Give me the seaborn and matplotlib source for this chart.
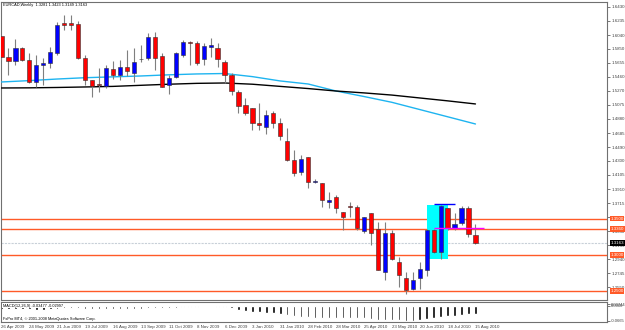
import matplotlib
matplotlib.use("Agg")
import matplotlib.pyplot as plt
from matplotlib.patches import Rectangle
import seaborn as sns
import numpy as np

# weekly EURCAD candles, 26 Apr 2009 .. 15 Aug 2010
opens = [1.6027, 1.5737, 1.5681, 1.5861, 1.5695, 1.5391, 1.5626, 1.5654, 1.5792, 1.6207,
         1.6200, 1.6193, 1.5723, 1.5419, 1.5363, 1.5336, 1.5571, 1.5488, 1.5598, 1.5515,
         1.5709, 1.5723, 1.6013, 1.5751, 1.5349, 1.5460, 1.5764, 1.5944, 1.5930, 1.5709,
         1.5875, 1.5861, 1.5668, 1.5488, 1.5253, 1.5073, 1.5031, 1.4824, 1.4769, 1.4962,
         1.4824, 1.4575, 1.4312, 1.4146, 1.4354, 1.4008, 1.3994, 1.3731, 1.3801, 1.3593,
         1.3676, 1.3662, 1.3330, 1.3579, 1.3358, 1.2763, 1.3303, 1.2902, 1.2680, 1.2528,
         1.2680, 1.2791, 1.3344, 1.3040, 1.3648, 1.3372, 1.3441, 1.3648, 1.3281]
highs = [1.6040, 1.5861, 1.5986, 1.5875, 1.5792, 1.5764, 1.5723, 1.5875, 1.6221, 1.6318,
         1.6318, 1.6235, 1.5764, 1.5419, 1.5585, 1.5626, 1.5681, 1.5695, 1.5833, 1.5861,
         1.5903, 1.6069, 1.6082, 1.5792, 1.5488, 1.5806, 1.5972, 1.5958, 1.5958, 1.5930,
         1.5999, 1.5930, 1.5695, 1.5515, 1.5280, 1.5170, 1.5031, 1.5101, 1.5004, 1.4990,
         1.4893, 1.4755, 1.4450, 1.4381, 1.4354, 1.4049, 1.3994, 1.3870, 1.3828, 1.3593,
         1.3731, 1.3690, 1.3524, 1.3579, 1.3455, 1.3455, 1.3344, 1.2971, 1.2763, 1.2763,
         1.2902, 1.3358, 1.3358, 1.3690, 1.3648, 1.3579, 1.3676, 1.3676, 1.3423]
lows = [1.5695, 1.5488, 1.5626, 1.5681, 1.5380, 1.5322, 1.5349, 1.5585, 1.5764, 1.6110,
        1.6110, 1.5709, 1.5349, 1.5183, 1.5253, 1.5308, 1.5432, 1.5419, 1.5474, 1.5391,
        1.5668, 1.5695, 1.5557, 1.5315, 1.5225, 1.5446, 1.5737, 1.5626, 1.5626, 1.5626,
        1.5737, 1.5598, 1.5377, 1.5211, 1.4962, 1.4935, 1.4727, 1.4727, 1.4672, 1.4755,
        1.4589, 1.4300, 1.4091, 1.4105, 1.3925, 1.3994, 1.3662, 1.3648, 1.3579, 1.3344,
        1.3524, 1.3344, 1.3303, 1.3137, 1.2785, 1.2653, 1.2929, 1.2556, 1.2459, 1.2514,
        1.2528, 1.2708, 1.3026, 1.2943, 1.3344, 1.3344, 1.3413, 1.3247, 1.3149]
closes = [1.5737, 1.5681, 1.5861, 1.5695, 1.5391, 1.5626, 1.5654, 1.5806, 1.6179, 1.6179,
          1.6185, 1.5723, 1.5419, 1.5336, 1.5349, 1.5585, 1.5488, 1.5598, 1.5543, 1.5668,
          1.5712, 1.6013, 1.5723, 1.5322, 1.5446, 1.5792, 1.5944, 1.5930, 1.5654, 1.5889,
          1.5903, 1.5709, 1.5488, 1.5266, 1.5059, 1.4962, 1.4824, 1.4796, 1.4935, 1.4824,
          1.4644, 1.4312, 1.4132, 1.4326, 1.4008, 1.4022, 1.3759, 1.3759, 1.3648, 1.3524,
          1.3662, 1.3372, 1.3524, 1.3303, 1.2791, 1.3303, 1.2943, 1.2722, 1.2514, 1.2653,
          1.2805, 1.3344, 1.3040, 1.3676, 1.3372, 1.3427, 1.3648, 1.3289, 1.3163]

# moving averages read every 4th week
ma_weeks = [0, 4, 8, 12, 16, 20, 24, 28, 32, 36, 40, 44, 48, 52, 56, 60, 64, 68]
ma_cyan = [1.5391, 1.5410, 1.5432, 1.5450, 1.5462, 1.5474, 1.5490, 1.5502, 1.5508,
           1.5465, 1.5405, 1.5363, 1.5266, 1.5190, 1.5110, 1.5010, 1.4910, 1.4810]
ma_black = [1.5308, 1.5310, 1.5315, 1.5322, 1.5330, 1.5345, 1.5360, 1.5372, 1.5377,
            1.5360, 1.5330, 1.5300, 1.5266, 1.5240, 1.5210, 1.5170, 1.5130, 1.5087]

macd = [-0.013, -0.014, -0.013, -0.013, -0.014, -0.015, -0.015, -0.014,
        -0.012, -0.009, -0.008, -0.009, -0.011, -0.013, -0.014, -0.014,
        -0.014, -0.013, -0.013, -0.012, -0.011, -0.009, -0.009, -0.010,
        -0.009, -0.007, -0.005, -0.004, -0.003, -0.002, -0.002, -0.003,
        -0.006, -0.010, -0.015, -0.019, -0.023, -0.027, -0.029, -0.031,
        -0.034, -0.038, -0.042, -0.044, -0.047, -0.048, -0.049, -0.049,
        -0.049, -0.050, -0.049, -0.049, -0.050, -0.052, -0.056, -0.056,
        -0.057, -0.059, -0.061, -0.060, -0.058, -0.054, -0.051, -0.046,
        -0.043, -0.040, -0.037, -0.035, -0.0348]

date_labels = ["26 Apr 2009", "24 May 2009", "21 Jun 2009", "19 Jul 2009", "16 Aug 2009",
               "13 Sep 2009", "11 Oct 2009", "8 Nov 2009", "6 Dec 2009", "3 Jan 2010",
               "31 Jan 2010", "28 Feb 2010", "28 Mar 2010", "25 Apr 2010", "23 May 2010",
               "20 Jun 2010", "18 Jul 2010", "15 Aug 2010"]

price_ticks = [1.6430, 1.6235, 1.6040, 1.5850, 1.5655, 1.5460, 1.5270, 1.5075, 1.4880,
               1.4685, 1.4490, 1.4300, 1.4105, 1.3910, 1.3715, 1.3520, 1.3330, 1.3135,
               1.2940, 1.2745, 1.2550]
levels = [1.3500, 1.3360, 1.3000, 1.2500]
last_price = 1.3163
box_weeks = [61, 64]
box_prices = [1.2943, 1.3690]
blue_line = (1.3704, 62, 65.1)
pink_line = (1.3372, 62, 69.2)

sns.set_style("white")
plt.rcParams['font.family'] = ['Liberation Sans', 'DejaVu Sans']

fig = plt.figure(figsize=(6.25, 3.3), dpi=100)
ax = fig.add_axes([1 / 625, 1 - 300 / 330, 606 / 625, 298 / 330])
ax2 = fig.add_axes([1 / 625, 1 - 322 / 330, 606 / 625, 20 / 330])

weeks = np.arange(len(closes))
o = np.array(opens)
c = np.array(closes)
up = c >= o
body_lo = np.minimum(o, c)
body_h = np.maximum(np.abs(c - o), 0.0006)

ax.add_patch(Rectangle((box_weeks[0], box_prices[0]), box_weeks[1] - box_weeks[0],
                       box_prices[1] - box_prices[0], facecolor='#00ffff', lw=0, zorder=2))

for p in levels:
    ax.axhline(p, color='#ff5a28', lw=1.0, zorder=1)
ax.axhline(last_price, color='#c8d0d8', lw=0.8, ls=(0, (2, 1)), zorder=1)

sns.lineplot(x=ma_weeks, y=ma_cyan, color='#1eb4f0', lw=1.0, ax=ax, zorder=3)
sns.lineplot(x=ma_weeks, y=ma_black, color='black', lw=1.0, ax=ax, zorder=3)

ax.vlines(weeks, lows, highs, color='#7f7f7f', lw=0.8, zorder=4)
ax.bar(weeks, body_h, bottom=body_lo, width=0.6,
       color=np.where(up, '#0000ff', '#ff0000'), edgecolor='#303030', lw=0.4, zorder=5)

ax.hlines(blue_line[0], blue_line[1], blue_line[2], color='#0000ff', lw=1.0, zorder=6)
ax.hlines(pink_line[0], pink_line[1], pink_line[2], color='#ff00ff', lw=1.0, zorder=6)

ax.set_xlim(-0.07, 86.87)
ax.set_ylim(1.2376, 1.6497)
ax.set_xticks([])
ax.yaxis.tick_right()
ax.set_yticks(price_ticks)
ax.set_yticklabels([f"{p:.4f}" for p in price_ticks], fontsize=3.2, color='#404040')
ax.tick_params(axis='y', length=2, width=0.5, pad=1, colors='#404040')
for s in ax.spines.values():
    s.set_color('#707070')
    s.set_linewidth(0.8)

ax.text(0.003, 0.995, "EURCAD,Weekly  1.3281 1.3423 1.3149 1.3163", transform=ax.transAxes,
        fontsize=2.8, va='top', ha='left', color='black', zorder=12)

for p in levels:
    ax.annotate(f"{p:.4f}", xy=(1.0, p), xycoords=('axes fraction', 'data'),
                xytext=(2.5, 0), textcoords='offset points', fontsize=3.2, color='white',
                va='center', ha='left', annotation_clip=False, zorder=10,
                bbox=dict(boxstyle='square,pad=0.15', fc='#ff5a28', ec='none'))
ax.annotate(f"{last_price:.4f}", xy=(1.0, last_price), xycoords=('axes fraction', 'data'),
            xytext=(2.5, 0), textcoords='offset points', fontsize=3.2, color='white',
            va='center', ha='left', annotation_clip=False, zorder=10,
            bbox=dict(boxstyle='square,pad=0.15', fc='black', ec='none'))

# MACD panel
sns.barplot(x=weeks, y=macd, native_scale=True, color='black', width=0.35,
            errorbar=None, saturation=1, ax=ax2)
ax2.set_xlim(-0.07, 86.87)
ax2.set_ylim(-0.066, 0.016)
ax2.set_xlabel('')
ax2.set_ylabel('')
ax2.yaxis.tick_right()
ax2.set_yticks([0.0074, 0.0, -0.060])
ax2.set_yticklabels(["0.00744", "0.0000", "-0.0665"], fontsize=3.0, color='#404040')
ax2.tick_params(axis='y', length=2, width=0.5, pad=1, colors='#404040')
ax2.set_xticks(weeks[::4])
ax2.set_xticklabels(date_labels, fontsize=3.2, ha='left', color='#404040')
ax2.tick_params(axis='x', length=2, width=0.5, pad=0.5, colors='#404040')
for s in ax2.spines.values():
    s.set_color('#707070')
    s.set_linewidth(0.8)
ax2.text(0.003, 0.92, "MACD(12,26,9) -0.03477 -0.02997", transform=ax2.transAxes,
         fontsize=2.8, va='top', ha='left', color='black', zorder=12,
         bbox=dict(boxstyle='square,pad=0.1', fc='white', ec='none'))
ax2.text(0.003, 0.04, "FxPro MT4, \u00a9 2001-2008 MetaQuotes Software Corp.", transform=ax2.transAxes,
         fontsize=2.8, va='bottom', ha='left', color='black', zorder=12)

fig.savefig("out.png", dpi=100)
